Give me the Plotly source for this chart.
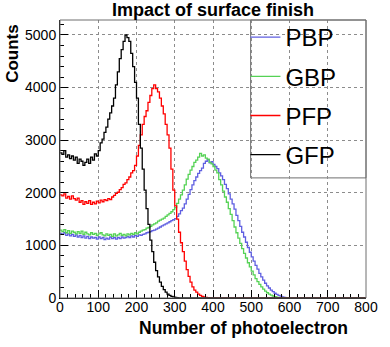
import plotly.graph_objects as go

bin_width = 5
n_bins = 160
# bin contents, bins of width 5 starting at 0
pbp = [1230, 1210, 1240, 1190, 1220, 1180, 1210, 1170, 1200, 1160,
       1190, 1150, 1180, 1140, 1170, 1130, 1160, 1140, 1150, 1120,
       1160, 1130, 1150, 1110, 1140, 1120, 1160, 1130, 1150, 1120,
       1150, 1130, 1160, 1140, 1150, 1170, 1150, 1180, 1160, 1190,
       1170, 1200, 1190, 1210, 1220, 1240, 1250, 1260, 1280, 1290,
       1310, 1330, 1350, 1370, 1390, 1410, 1430, 1450, 1470, 1490,
       1510, 1550, 1600, 1660, 1710, 1790, 1880, 1970, 2060, 2150,
       2230, 2300, 2370, 2420, 2470, 2560, 2600, 2630, 2570, 2590,
       2540, 2500, 2460, 2380, 2320, 2250, 2160, 2080, 1980, 1880,
       1790, 1690, 1570, 1470, 1360, 1250, 1160, 1060, 960, 870,
       780, 700, 620, 550, 470, 400, 340, 280, 230, 190,
       150, 120, 90, 70, 50, 35, 22, 12, 6, 3, 1]
gbp = [1290, 1260, 1300, 1240, 1280, 1230, 1270, 1250, 1220, 1260,
       1230, 1270, 1210, 1250, 1220, 1200, 1240, 1210, 1230, 1190,
       1220, 1240, 1200, 1180, 1220, 1190, 1210, 1170, 1220, 1180,
       1200, 1230, 1190, 1210, 1180, 1220, 1200, 1230, 1210, 1240,
       1220, 1250, 1270, 1290, 1300, 1330, 1340, 1360, 1390, 1410,
       1430, 1460, 1480, 1500, 1520, 1550, 1580, 1610, 1640, 1680,
       1720, 1800, 1880, 1960, 2050, 2150, 2260, 2350, 2430, 2500,
       2580, 2620, 2680, 2750, 2700, 2720, 2660, 2640, 2580, 2550,
       2500, 2430, 2380, 2250, 2150, 2030, 1920, 1820, 1700, 1590,
       1470, 1350, 1240, 1140, 1040, 940, 850, 760, 670, 590,
       510, 440, 370, 310, 260, 210, 170, 130, 100, 75,
       55, 38, 25, 15, 8, 4, 2]
pfp = [1960, 1940, 1980, 1900, 1930, 1880, 1940, 1890, 1860, 1900,
       1820, 1850, 1780, 1830, 1800, 1850, 1780, 1820, 1790, 1840,
       1810, 1860, 1830, 1870, 1850, 1890, 1870, 1920, 1950, 1990,
       2010, 2060, 2100, 2160, 2190, 2250, 2300, 2380, 2420, 2520,
       2700, 2900, 3100, 3300, 3450, 3560, 3720, 3850, 3980, 4050,
       3980, 3920, 3800, 3650, 3500, 3300, 3100, 2850, 2450, 2050,
       1750, 1500, 1250, 1050, 880, 700, 540, 410, 300, 210,
       150, 110, 75, 50, 32, 20, 12, 7, 4, 2]
gfp = [2760, 2730, 2800, 2680, 2720, 2650, 2700, 2620, 2680, 2560,
       2640, 2600, 2520, 2580, 2640, 2560, 2680, 2620, 2740, 2700,
       2800, 2950, 3020, 3150, 3250, 3400, 3520, 3650, 3800, 4050,
       4300, 4550, 4720, 4880, 5000, 4950, 4880, 4650, 4400, 4100,
       3800, 3300, 2850, 2450, 2050, 1700, 1400, 1100, 880, 680,
       520, 400, 300, 220, 160, 110, 75, 50, 32, 20,
       12, 7, 4, 2]

series = [("PBP", pbp, "rgb(95,95,225)"),
          ("GBP", gbp, "rgb(85,210,85)"),
          ("PFP", pfp, "rgb(255,0,0)"),
          ("GFP", gfp, "rgb(0,0,0)")]

fig = go.Figure()
for name, vals, col in series:
    full = list(vals) + [0] * (n_bins - len(vals))
    xs = [i * bin_width for i in range(n_bins)] + [n_bins * bin_width]
    ys = full + [full[-1]]
    fig.add_trace(go.Scatter(x=xs, y=ys, mode="lines", name=name,
                             legendgroup=name,
                             line=dict(color=col, width=1.3, shape="hv")))

ff = "Liberation Sans, Arial, sans-serif"
axis_font = dict(family=ff, size=14, color="black")
fig.update_layout(
    width=390, height=347,
    margin=dict(l=60, r=22, t=20, b=49),
    plot_bgcolor="white", paper_bgcolor="white",
    font=axis_font,
    showlegend=True,
    legend=dict(x=0.606, xanchor="left", y=1.018, yanchor="top",
                font=dict(family=ff, size=24, color="black"),
                bgcolor="rgba(0,0,0,0)", borderwidth=0,
                itemwidth=30, tracegroupgap=5, traceorder="grouped"),
    xaxis=dict(range=[0, 800], dtick=100, tick0=0, ticks="inside", ticklen=8,
               tickcolor="black", showline=True, linecolor="black", linewidth=1,
               showgrid=True, gridcolor="rgb(140,140,140)", griddash="dot", gridwidth=1,
               zeroline=False, tickfont=axis_font, ticklabelstandoff=-4,
               minor=dict(dtick=20, ticks="inside", ticklen=4, tickcolor="black", showgrid=False)),
    yaxis=dict(range=[0, 5285], dtick=1000, tick0=0, ticks="inside", ticklen=8,
               tickcolor="black", showline=True, linecolor="black", linewidth=1,
               showgrid=True, gridcolor="rgb(140,140,140)", griddash="dot", gridwidth=1,
               zeroline=False, tickfont=axis_font,
               minor=dict(dtick=200, ticks="inside", ticklen=4, tickcolor="black", showgrid=False)),
    shapes=[
        dict(type="rect", xref="paper", yref="paper", x0=0, x1=1, y0=0, y1=1,
             line=dict(color="rgb(110,110,110)", width=1), layer="above"),
        dict(type="rect", xref="paper", yref="paper", x0=0.623, x1=1.0, y0=0.432, y1=1.0,
             line=dict(color="rgb(110,110,110)", width=1), fillcolor="white", layer="below"),
    ],
    annotations=[
        dict(text="<b>Impact of surface finish</b>", xref="paper", yref="paper",
             x=(214 - 60) / 308, y=1 + 10 / 278, xanchor="center", yanchor="middle",
             showarrow=False, font=dict(family=ff, size=18)),
        dict(text="<b>Counts</b>", xref="paper", yref="paper", textangle=-90,
             x=-48 / 308, y=1 - 2 / 278, xanchor="center", yanchor="top",
             showarrow=False, font=dict(family=ff, size=17)),
        dict(text="<b>Number of photoelectron</b>", xref="paper", yref="paper",
             x=(352 - 60) / 308, y=-30 / 278, xanchor="right", yanchor="middle",
             showarrow=False, font=dict(family=ff, size=17.5)),
    ],
)
fig.write_html("out.html", config={"displayModeBar": False},
               post_script="document.body.style.margin='0';")
